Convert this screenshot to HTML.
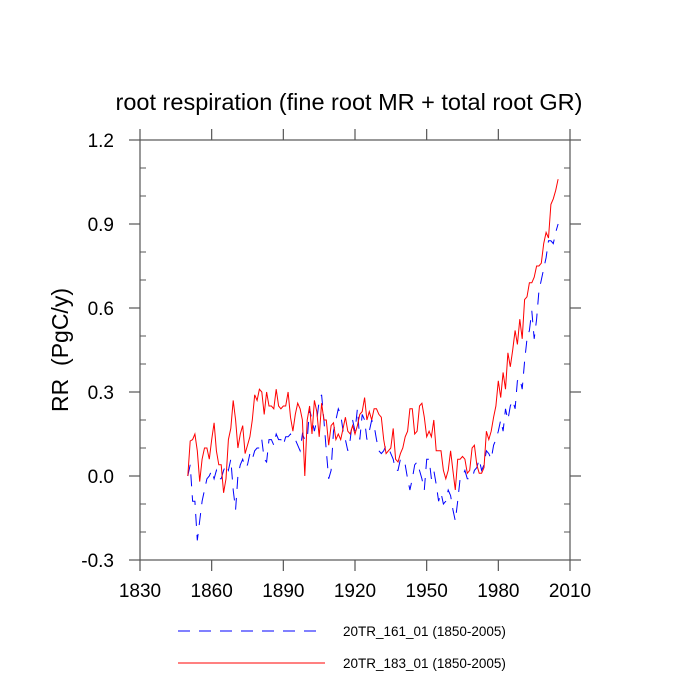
<!DOCTYPE html>
<html><head><meta charset="utf-8"><style>
body{margin:0;background:#fff}
svg{display:block;font-family:"Liberation Sans",sans-serif}
</style></head><body>
<svg id="chart" width="700" height="700">
<text x="349" y="110" font-size="23.5" text-anchor="middle">root respiration (fine root MR + total root GR)</text>
<text transform="translate(68,350) rotate(-90)" font-size="23" text-anchor="middle" style="white-space:pre" xml:space="preserve">RR  (PgC/y)</text>
<g id="axes"></g>
<g id="series"></g>
<g>
<line x1="178" y1="631" x2="325" y2="631" stroke="#00f" stroke-width="1" stroke-dasharray="12,9"/>
<text x="343" y="636" font-size="13.5">20TR_161_01 (1850-2005)</text>
<line x1="178" y1="663" x2="325" y2="663" stroke="#f00" stroke-width="1"/>
<text x="343" y="668" font-size="13.5">20TR_183_01 (1850-2005)</text>
</g>
</svg>
<script>
const startYear = 1850;
const xTicks = [1830,1860,1890,1920,1950,1980,2010];
const yTicks = [-0.3,0.0,0.3,0.6,0.9,1.2];
const yTickLabels = ["-0.3","0.0","0.3","0.6","0.9","1.2"];
const red183 = [0.00,0.125,0.13,0.15,0.09,-0.02,0.06,0.10,0.10,0.06,0.13,0.19,0.09,0.04,0.04,-0.06,-0.01,0.13,0.17,0.27,0.20,0.10,0.15,0.18,0.08,0.11,0.14,0.20,0.29,0.27,0.31,0.30,0.22,0.30,0.25,0.25,0.24,0.31,0.25,0.24,0.25,0.25,0.30,0.21,0.16,0.22,0.26,0.24,0.20,0.00,0.20,0.25,0.15,0.27,0.23,0.14,0.26,0.20,0.20,0.11,0.18,0.19,0.13,0.15,0.13,0.17,0.21,0.16,0.15,0.18,0.15,0.18,0.22,0.23,0.28,0.20,0.23,0.20,0.24,0.24,0.22,0.21,0.13,0.08,0.09,0.10,0.17,0.06,0.05,0.08,0.10,0.14,0.16,0.24,0.24,0.15,0.16,0.25,0.26,0.21,0.14,0.16,0.14,0.20,0.09,0.09,0.09,0.02,-0.01,0.02,0.09,0.02,-0.05,0.06,0.06,0.07,0.06,0.01,0.02,0.10,0.11,0.04,0.01,0.01,0.03,0.16,0.13,0.16,0.21,0.25,0.34,0.28,0.37,0.31,0.44,0.39,0.45,0.52,0.47,0.56,0.49,0.63,0.64,0.69,0.69,0.71,0.75,0.75,0.76,0.83,0.87,0.85,0.97,0.99,1.02,1.06];
const blue161 = [0.00,0.04,-0.09,-0.09,-0.23,-0.16,-0.09,-0.05,-0.01,0.00,0.02,-0.01,0.02,-0.01,-0.01,0.02,0.04,0.02,0.06,-0.05,-0.12,0.00,0.04,0.06,0.03,0.04,0.08,0.06,0.09,0.10,0.10,0.13,0.06,0.05,0.13,0.13,0.11,0.15,0.13,0.13,0.11,0.14,0.14,0.15,0.13,0.13,0.11,0.09,0.15,0.13,0.13,0.24,0.20,0.16,0.20,0.27,0.29,0.20,0.09,-0.01,0.02,0.16,0.20,0.24,0.22,0.16,0.13,0.09,0.13,0.20,0.16,0.24,0.13,0.22,0.20,0.13,0.16,0.20,0.18,0.13,0.09,0.08,0.09,0.11,0.10,0.08,0.06,0.02,0.02,0.06,0.06,0.04,-0.01,-0.05,-0.01,0.04,0.05,0.02,-0.01,-0.05,0.06,0.06,-0.01,0.02,-0.03,-0.09,-0.06,-0.10,-0.09,-0.05,-0.07,-0.12,-0.16,-0.09,-0.01,0.00,0.02,-0.01,-0.01,-0.01,0.02,0.03,0.06,0.02,0.04,0.09,0.08,0.06,0.11,0.13,0.16,0.20,0.16,0.24,0.20,0.25,0.27,0.24,0.34,0.35,0.31,0.41,0.49,0.52,0.59,0.49,0.56,0.66,0.70,0.74,0.78,0.84,0.84,0.83,0.87,0.90];

const L=140,R=570,T=140,B=560;
const xs = yr => L + (yr-1830)/(2010-1830)*(R-L);
const ys = v => B - (v+0.3)/1.5*(B-T);
const NS="http://www.w3.org/2000/svg";
const axes=document.getElementById('axes');
function mk(tag,attrs,parent){const e=document.createElementNS(NS,tag);for(const k in attrs)e.setAttribute(k,attrs[k]);parent.appendChild(e);return e;}
const frame=mk('rect',{x:L,y:T,width:R-L,height:B-T,fill:'none',stroke:'#555','stroke-width':1.2},axes);


xTicks.forEach(t=>{
  const x=xs(t);
  mk('line',{x1:x,y1:B,x2:x,y2:B+11,stroke:'#555','stroke-width':1.2},axes);
  mk('line',{x1:x,y1:T,x2:x,y2:T-11,stroke:'#555','stroke-width':1.2},axes);
  const tx=mk('text',{x:x,y:B+37,'font-size':19,'text-anchor':'middle'},axes);
  tx.textContent=t;
  
  
});
yTicks.forEach((t,i)=>{
  const y=ys(t);
  mk('line',{x1:L,y1:y,x2:L-11,y2:y,stroke:'#555','stroke-width':1.2},axes);
  mk('line',{x1:R,y1:y,x2:R+11,y2:y,stroke:'#555','stroke-width':1.2},axes);
  const tx=mk('text',{x:L-26,y:y+7,'font-size':19,'text-anchor':'end'},axes);
  tx.textContent=yTickLabels[i];
  
  
});
for(let v=-0.2;v<1.2;v+=0.1){
  if(Math.abs(Math.round(v*10)%3)===0) continue;
  const y=ys(v);
  mk('line',{x1:L,y1:y,x2:L+6,y2:y,stroke:'#555','stroke-width':1},axes);
  mk('line',{x1:R,y1:y,x2:R-6,y2:y,stroke:'#555','stroke-width':1},axes);
}
const ser=document.getElementById('series');
function pts(arr){return arr.map((v,i)=>xs(startYear+i).toFixed(1)+','+ys(v).toFixed(1)).join(' ');}
const b=mk('polyline',{points:pts(blue161),fill:'none',stroke:'#00f','stroke-width':1,'stroke-dasharray':'12,9'},ser);


const r=mk('polyline',{points:pts(red183),fill:'none',stroke:'#f00','stroke-width':1},ser);


</script>
</body></html>
